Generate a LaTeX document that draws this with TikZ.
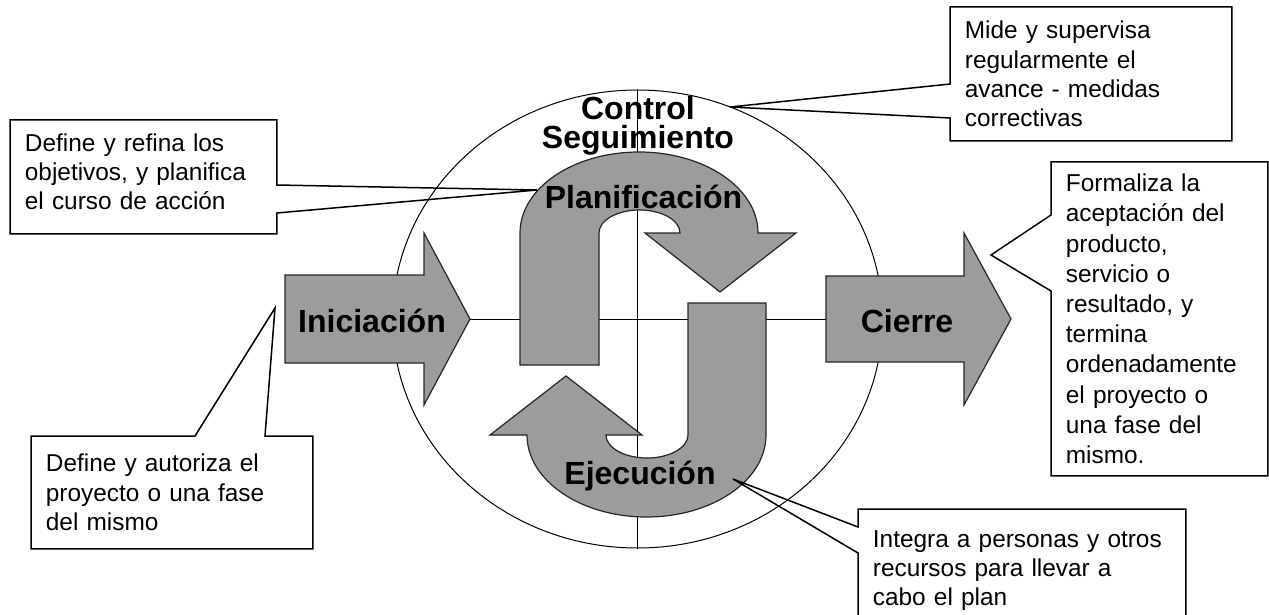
\documentclass[tikz,border=0pt]{standalone}
\usepackage{fontspec}
\setmainfont{Liberation Sans}
\usetikzlibrary{shapes.geometric}
\definecolor{shapegray}{HTML}{9C9C9C}
\tikzset{
  lbl/.style={font=\fontsize{16}{17}\selectfont\bfseries, inner sep=0pt},
  note/.style={font=\fontsize{12.2}{14.6}\selectfont, align=left, anchor=north west,
    inner xsep=7.25pt, inner ysep=0pt},
  calloutline/.style={draw=black, line width=0.75pt, line join=miter},
  grayshape/.style={fill=shapegray, draw=black!85, line width=0.6pt, line join=miter},
  guide/.style={draw=black, line width=0.5pt}
}
\begin{document}
\begin{tikzpicture}[x=0.5pt,y=-0.5pt]
\useasboundingbox (0,0) rectangle (1269,615);

% cycle ellipse and cross lines
\node[draw, ellipse, minimum width=245pt, minimum height=229pt, inner sep=0pt, line width=0.5pt] (cyc) at (637.5,319) {};
\draw[guide] (cyc.west) -- (cyc.east);
\draw[guide] (cyc.north) -- (cyc.south);

% Iniciacion arrow
\draw[grayshape] (285,275) -- (424,275) -- (424,233) -- (470,319) -- (424,405) -- (424,363) -- (285,363) -- cycle;
% Cierre arrow
\draw[grayshape] (826,276) -- (964,276) -- (964,233) -- (1011,319) -- (964,405) -- (964,362) -- (826,362) -- cycle;

% Planificacion curved arrow
\draw[grayshape] (520,365) -- (520,233)
  arc[start angle=180, end angle=0, x radius=59.5pt, y radius=40.5pt]
  -- (796,233) -- (720,292) -- (645,233) -- (680,233)
  arc[start angle=0, end angle=180, x radius=20.25pt, y radius=11.5pt]
  -- (599,365) -- cycle;
% Ejecucion curved arrow
\draw[grayshape] (766,303) -- (766,435)
  arc[start angle=0, end angle=-180, x radius=59.75pt, y radius=41pt]
  -- (490,435) -- (566,376) -- (642,435) -- (606,435)
  arc[start angle=180, end angle=360, x radius=20.5pt, y radius=11.5pt]
  -- (688,303) -- cycle;

% labels
\node[lbl, anchor=base] (ini) at (372,332) {Iniciación};
\node[lbl, anchor=base] (cie) at (907,332) {Cierre};
\node[lbl, anchor=base] (pla) at (643.5,208) {Planificación};
\node[lbl, anchor=base] (eje) at (640,484) {Ejecución};
\node[lbl, align=center, font=\fontsize{16}{14.5}\selectfont\bfseries] (ctl) at (638,126) {Control\\Seguimiento};

% callouts
\node[note, text width=118.5pt, minimum height=56.5pt, font=\fontsize{12.2}{14.3}\selectfont] (nA) at (10,120)
  {Define y refina los\\objetivos, y planifica\\el curso de acción\\[-9pt]\mbox{}};
\coordinate (tA) at (537,190);
\draw[calloutline] (nA.north west) -- (nA.north east) -- ([yshift=-32.5pt]nA.north east)
  -- (tA) -- ([yshift=-46.5pt]nA.north east) -- (nA.south east) -- (nA.south west) -- cycle;

\node[note, text width=126pt, minimum height=66.5pt] (nB) at (950,7)
  {Mide y supervisa\\regularmente el\\avance - medidas\\correctivas};
\coordinate (tB) at (730,107);
\draw[calloutline] (nB.north west) -- (nB.north east) -- (nB.south east) -- (nB.south west)
  -- ([yshift=-55.5pt]nB.north west) -- (tB) -- ([yshift=-38.5pt]nB.north west) -- cycle;

\node[note, text width=93.5pt, minimum height=156.5pt, font=\fontsize{12.2}{15.1}\selectfont] (nC) at (1051,162)
  {Formaliza la\\aceptación del\\producto,\\servicio o\\resultado, y\\termina\\ordenadamente\\el proyecto o\\una fase del\\mismo.};
\coordinate (tC) at (991,255);
\draw[calloutline] (nC.north west) -- (nC.north east) -- (nC.south east) -- (nC.south west)
  -- ([yshift=-64.5pt]nC.north west) -- (tC) -- ([yshift=-26.5pt]nC.north west) -- cycle;

\node[note, text width=126pt, minimum height=56pt] (nD) at (31,436)
  {Define y autoriza el\\proyecto o una fase\\del mismo};
\coordinate (tD) at (275,308);
\draw[calloutline] (nD.north west) -- ([xshift=82pt]nD.north west) -- (tD)
  -- ([xshift=117pt]nD.north west) -- (nD.north east) -- (nD.south east) -- (nD.south west) -- cycle;

\node[note, text width=149pt, minimum height=61.5pt] (nE) at (858,509)
  {Integra a personas y otros\\recursos para llevar a\\cabo el plan};
\coordinate (tE) at (733,479);
\draw[calloutline] (nE.north west) -- (nE.north east) -- (nE.south east) -- (nE.south west)
  -- ([yshift=-22pt]nE.north west) -- (tE) -- ([yshift=-9pt]nE.north west) -- cycle;
\end{tikzpicture}
\end{document}
